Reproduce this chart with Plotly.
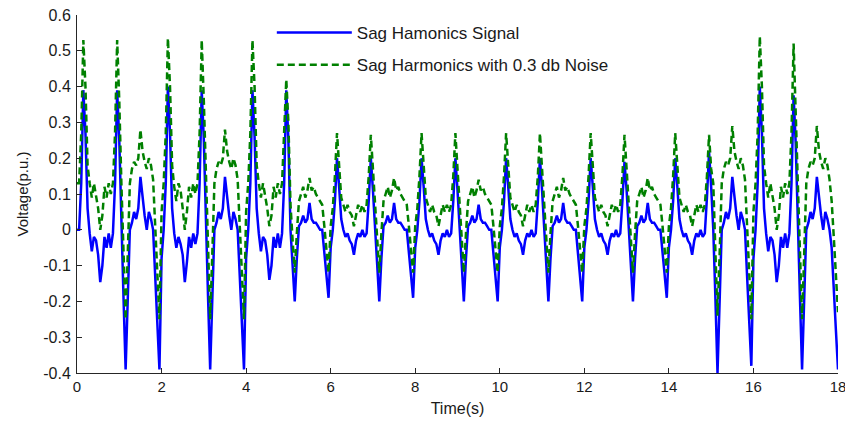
import numpy as np
import plotly.graph_objects as go

dt = 0.05

signal_rows = [
    [0.00, 0.00, 0.13, 0.39, 0.27, 0.06, -0.01, -0.06, -0.02, -0.03, -0.07, -0.146, -0.10, -0.02, -0.05, -0.01, -0.05, -0.01, 0.13, 0.39],
    [0.25, 0.00, -0.19, -0.39, -0.20, 0.00, 0.02, 0.05, 0.03, 0.06, 0.148, 0.09, 0.04, 0.00, 0.05, 0.03, 0.00, -0.13, -0.26, -0.39],
    [-0.08, 0.00, 0.13, 0.40, 0.27, 0.06, -0.01, -0.05, -0.02, -0.04, -0.07, -0.146, -0.09, -0.02, -0.05, -0.01, -0.04, -0.01, 0.13, 0.39],
    [0.25, 0.00, -0.19, -0.39, -0.21, 0.00, 0.02, 0.05, 0.03, 0.06, 0.148, 0.09, 0.04, 0.00, 0.05, 0.03, 0.00, -0.13, -0.26, -0.39],
    [-0.08, 0.00, 0.13, 0.39, 0.26, 0.06, -0.01, -0.06, -0.02, -0.03, -0.07, -0.14, -0.10, -0.02, -0.05, -0.01, -0.05, -0.01, 0.13, 0.39],
    [0.25, 0.00, -0.10, -0.20, -0.08, 0.01, 0.02, 0.04, 0.02, 0.03, 0.075, 0.03, 0.02, 0.02, 0.01, 0.00, 0.00, -0.06, -0.12, -0.19],
    [-0.05, 0.00, 0.08, 0.20, 0.12, 0.03, 0.00, -0.02, -0.01, -0.03, -0.04, -0.07, -0.03, -0.01, -0.02, 0.00, -0.02, -0.01, 0.08, 0.20],
    [0.11, 0.00, -0.10, -0.20, -0.08, 0.01, 0.02, 0.04, 0.02, 0.03, 0.075, 0.03, 0.02, 0.02, 0.01, 0.00, 0.00, -0.06, -0.12, -0.19],
    [-0.05, 0.00, 0.08, 0.20, 0.12, 0.03, 0.00, -0.02, -0.01, -0.03, -0.04, -0.07, -0.03, -0.01, -0.02, 0.00, -0.02, -0.01, 0.08, 0.20],
    [0.11, 0.00, -0.10, -0.20, -0.08, 0.01, 0.02, 0.04, 0.02, 0.03, 0.07, 0.03, 0.02, 0.02, 0.01, 0.00, 0.00, -0.06, -0.12, -0.20],
    [-0.05, 0.00, 0.08, 0.20, 0.12, 0.03, 0.00, -0.02, -0.01, -0.03, -0.04, -0.07, -0.03, -0.01, -0.02, 0.00, -0.02, -0.01, 0.08, 0.20],
    [0.11, 0.00, -0.10, -0.20, -0.08, 0.01, 0.02, 0.04, 0.02, 0.03, 0.075, 0.03, 0.02, 0.02, 0.01, 0.00, 0.00, -0.06, -0.12, -0.20],
    [-0.05, 0.00, 0.08, 0.20, 0.12, 0.03, 0.00, -0.02, -0.01, -0.03, -0.04, -0.07, -0.03, -0.01, -0.02, 0.00, -0.02, -0.01, 0.08, 0.19],
    [0.11, 0.00, -0.10, -0.20, -0.08, 0.01, 0.02, 0.04, 0.02, 0.03, 0.075, 0.03, 0.02, 0.02, 0.01, 0.00, 0.00, -0.06, -0.12, -0.19],
    [-0.05, 0.00, 0.08, 0.20, 0.12, 0.03, 0.00, -0.02, -0.01, -0.03, -0.04, -0.07, -0.03, -0.01, -0.02, 0.00, -0.02, -0.01, 0.09, 0.217],
    [0.12, 0.00, -0.19, -0.40, -0.20, 0.00, 0.02, 0.05, 0.03, 0.06, 0.148, 0.09, 0.04, 0.00, 0.05, 0.03, 0.00, -0.13, -0.26, -0.38],
    [-0.08, 0.00, 0.13, 0.40, 0.27, 0.06, -0.01, -0.06, -0.02, -0.03, -0.07, -0.146, -0.10, -0.02, -0.05, -0.01, -0.05, -0.01, 0.13, 0.376],
    [0.24, 0.00, -0.19, -0.39, -0.20, 0.00, 0.02, 0.05, 0.03, 0.06, 0.148, 0.09, 0.04, 0.00, 0.05, 0.03, 0.00, -0.05, -0.15, -0.28],
    [-0.39],
]

noisy_rows = [
    [0.13, 0.13, 0.27, 0.53, 0.40, 0.18, 0.13, 0.09, 0.13, 0.10, 0.06, 0.00, 0.04, 0.12, 0.09, 0.13, 0.10, 0.13, 0.27, 0.53],
    [0.36, 0.13, -0.06, -0.25, -0.07, 0.13, 0.17, 0.19, 0.18, 0.20, 0.28, 0.22, 0.19, 0.17, 0.20, 0.18, 0.14, 0.00, -0.12, -0.25],
    [0.05, 0.13, 0.27, 0.535, 0.40, 0.18, 0.12, 0.08, 0.13, 0.11, 0.06, 0.00, 0.05, 0.12, 0.09, 0.13, 0.10, 0.13, 0.27, 0.53],
    [0.36, 0.13, -0.06, -0.25, -0.07, 0.13, 0.17, 0.19, 0.18, 0.20, 0.28, 0.22, 0.19, 0.17, 0.20, 0.18, 0.14, 0.00, -0.12, -0.25],
    [0.05, 0.13, 0.27, 0.53, 0.40, 0.18, 0.13, 0.09, 0.13, 0.10, 0.06, 0.01, 0.04, 0.12, 0.09, 0.13, 0.10, 0.13, 0.27, 0.42],
    [0.30, 0.07, -0.03, -0.12, -0.01, 0.08, 0.10, 0.12, 0.09, 0.11, 0.145, 0.11, 0.12, 0.10, 0.09, 0.08, 0.07, 0.01, -0.06, -0.12],
    [0.01, 0.06, 0.15, 0.27, 0.18, 0.09, 0.07, 0.05, 0.07, 0.05, 0.04, 0.01, 0.04, 0.07, 0.05, 0.07, 0.05, 0.07, 0.15, 0.265],
    [0.17, 0.07, -0.03, -0.12, -0.01, 0.08, 0.10, 0.12, 0.09, 0.11, 0.145, 0.11, 0.12, 0.10, 0.09, 0.08, 0.07, 0.01, -0.06, -0.12],
    [0.01, 0.06, 0.15, 0.27, 0.18, 0.09, 0.07, 0.05, 0.07, 0.05, 0.04, 0.01, 0.04, 0.07, 0.05, 0.07, 0.05, 0.07, 0.15, 0.27],
    [0.17, 0.07, -0.03, -0.12, -0.01, 0.08, 0.10, 0.12, 0.09, 0.11, 0.14, 0.11, 0.12, 0.10, 0.09, 0.08, 0.07, 0.01, -0.06, -0.12],
    [0.01, 0.06, 0.15, 0.27, 0.18, 0.09, 0.07, 0.05, 0.07, 0.05, 0.04, 0.01, 0.04, 0.07, 0.05, 0.07, 0.05, 0.07, 0.15, 0.27],
    [0.17, 0.07, -0.03, -0.12, -0.01, 0.08, 0.10, 0.12, 0.09, 0.11, 0.145, 0.11, 0.12, 0.10, 0.09, 0.08, 0.07, 0.01, -0.06, -0.12],
    [0.01, 0.06, 0.15, 0.27, 0.18, 0.09, 0.07, 0.05, 0.07, 0.05, 0.04, 0.01, 0.04, 0.07, 0.05, 0.07, 0.05, 0.07, 0.15, 0.265],
    [0.17, 0.07, -0.03, -0.12, -0.01, 0.08, 0.10, 0.12, 0.09, 0.11, 0.145, 0.11, 0.12, 0.10, 0.09, 0.08, 0.07, 0.01, -0.06, -0.12],
    [0.01, 0.06, 0.15, 0.27, 0.18, 0.09, 0.07, 0.05, 0.07, 0.05, 0.04, 0.01, 0.04, 0.07, 0.05, 0.07, 0.05, 0.07, 0.15, 0.265],
    [0.17, 0.13, -0.06, -0.24, -0.07, 0.13, 0.17, 0.19, 0.18, 0.20, 0.29, 0.22, 0.19, 0.17, 0.20, 0.18, 0.14, 0.00, -0.12, -0.25],
    [0.05, 0.13, 0.27, 0.54, 0.40, 0.18, 0.13, 0.09, 0.13, 0.10, 0.06, 0.00, 0.04, 0.12, 0.09, 0.13, 0.10, 0.13, 0.27, 0.52],
    [0.35, 0.13, -0.06, -0.25, -0.07, 0.13, 0.17, 0.19, 0.18, 0.20, 0.29, 0.22, 0.19, 0.17, 0.20, 0.18, 0.14, 0.08, -0.02, -0.14],
    [-0.23],
]

series_names = ["Sag Hamonics Signal", "Sag Harmonics with 0.3 db Noise"]
x_tick_vals = [0, 2, 4, 6, 8, 10, 12, 14, 16, 18]
y_tick_vals = [-0.4, -0.3, -0.2, -0.1, 0, 0.1, 0.2, 0.3, 0.4, 0.5, 0.6]
y_tick_text = ["-0.4", "-0.3", "-0.2", "-0.1", "0", "0.1", "0.2", "0.3", "0.4", "0.5", "0.6"]

signal = [v for row in signal_rows for v in row]
noisy = [v for row in noisy_rows for v in row]
time = np.round(np.arange(len(signal)) * dt, 3)

# ---------------- figure ----------------
fig = go.Figure()
fig.add_trace(go.Scatter(x=time, y=signal, mode="lines", name=series_names[0],
                         legendgroup="a",
                         line=dict(color="#0000FF", width=2.5)))
fig.add_trace(go.Scatter(x=time, y=noisy, mode="lines", name=series_names[1],
                         legendgroup="b",
                         line=dict(color="#008000", width=2.5, dash="7px,4px")))

axis_common = dict(showgrid=False, zeroline=False, showline=True, linecolor="#262626",
                   linewidth=1, ticks="inside", ticklen=5, tickcolor="#262626",
                   mirror=False, ticklabeloverflow="allow", automargin=False)

fig.update_layout(
    width=845, height=421,
    margin=dict(l=77, r=7, t=15, b=48),
    paper_bgcolor="white", plot_bgcolor="white",
    font=dict(family="Arial, Liberation Sans, sans-serif", size=15, color="#1a1a1a"),
    showlegend=True,
    legend=dict(x=0.256, y=1.0, xanchor="left", yanchor="top",
                bgcolor="rgba(255,255,255,0)", borderwidth=0,
                font=dict(size=17, color="#1a1a1a"),
                traceorder="grouped", tracegroupgap=7, itemwidth=75),
    xaxis=dict(range=[0, 18], tickvals=x_tick_vals,
               tickfont=dict(size=15, color="#1a1a1a"),
               title=dict(text="Time(s)", font=dict(size=16), standoff=8),
               **axis_common),
    yaxis=dict(range=[-0.4, 0.6], tickvals=y_tick_vals, ticktext=y_tick_text,
               tickfont=dict(size=16, color="#1a1a1a"), ticklabelstandoff=2,
               title=dict(text="Voltage(p.u.)", font=dict(size=15), standoff=10),
               **axis_common),
)

fig.write_html("out.html")
